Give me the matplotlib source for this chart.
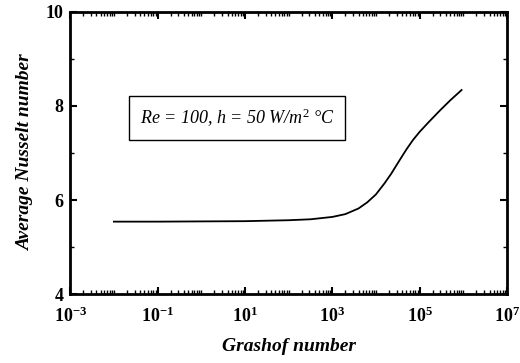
import numpy as np
import matplotlib
matplotlib.use("Agg")
import matplotlib.pyplot as plt
from matplotlib.ticker import LogLocator, FixedLocator, NullFormatter

# Average Nusselt number vs Grashof number
log_gr = [-2.0, -1.0, 0.0, 1.0, 2.0, 2.5, 3.0, 3.3, 3.6, 3.8, 4.0, 4.2, 4.35,
          4.55, 4.7, 4.85, 5.0, 5.2, 5.47, 5.7, 5.96]
nusselt = [5.54, 5.54, 5.545, 5.55, 5.57, 5.59, 5.64, 5.70, 5.82, 5.95, 6.12,
           6.36, 6.56, 6.86, 7.08, 7.28, 7.45, 7.65, 7.91, 8.12, 8.34]

x_ticks = [1e-3, 1e-1, 1e1, 1e3, 1e5, 1e7]
x_labels = ["$\\mathbf{10^{-3}}$", "$\\mathbf{10^{-1}}$", "$\\mathbf{10^{1}}$",
            "$\\mathbf{10^{3}}$", "$\\mathbf{10^{5}}$", "$\\mathbf{10^{7}}$"]
y_ticks = [4, 6, 8, 10]

plt.rcParams['font.family'] = ['Liberation Serif', 'DejaVu Serif']
plt.rcParams['mathtext.fontset'] = 'custom'
plt.rcParams['mathtext.rm'] = 'Liberation Serif'
plt.rcParams['mathtext.bf'] = 'Liberation Serif:bold'
plt.rcParams['mathtext.it'] = 'Liberation Serif:italic'

fig = plt.figure(figsize=(5.2, 3.63), dpi=100)
ax = fig.add_axes([0.135, 0.19, 0.84, 0.777])

gr = 10.0 ** np.array(log_gr)
ax.plot(gr, nusselt, color='black', lw=1.3)

ax.set_xscale('log')
ax.set_xlim(1e-3, 1e7)
ax.set_ylim(4, 10)

ax.xaxis.set_major_locator(FixedLocator(x_ticks))
ax.set_xticklabels(x_labels)
ax.xaxis.set_minor_locator(LogLocator(base=10, subs=np.arange(1, 10), numticks=50))
ax.xaxis.set_minor_formatter(NullFormatter())
ax.set_yticks(y_ticks)
ax.set_yticks([5, 7, 9], minor=True)

ax.tick_params(which='both', direction='in', top=True, right=True)
ax.tick_params(which='major', length=5, width=1.5, labelsize=13)
ax.tick_params(axis='x', which='major', pad=9)
ax.tick_params(axis='y', which='major', pad=5)
ax.tick_params(which='minor', length=3, width=1)
for lbl in ax.get_yticklabels():
    lbl.set_fontweight('bold')
for s in ax.spines.values():
    s.set_linewidth(2)

ax.set_xlabel('Grashof number', fontsize=14, fontweight='bold', style='italic', labelpad=9)
ax.set_ylabel('Average Nusselt number', fontsize=14, fontweight='bold', style='italic', labelpad=8)

ax.text(0.382, 0.625, "Re = 100, h = 50 W/m$^{2}$ \u00b0C", transform=ax.transAxes,
        ha='center', va='center', fontsize=13, style='italic',
        bbox=dict(boxstyle='square,pad=0.6', fc='white', ec='black', lw=1))

fig.savefig('out.png', dpi=100)
